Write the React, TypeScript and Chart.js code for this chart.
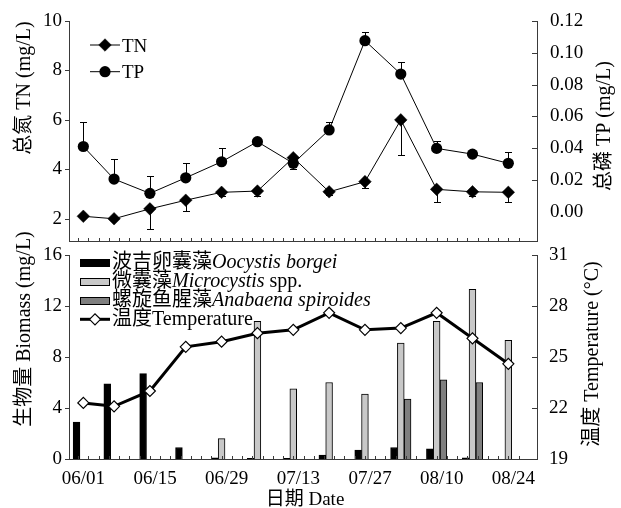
import React, { useEffect, useRef } from 'react';
import { Chart, registerables } from 'chart.js';

Chart.register(...registerables);

// ---------- data ----------
// sampling days, counted from 06/01
const sampleDays = [0, 6, 13, 20, 27, 34, 41, 48, 55, 62, 69, 76, 83];
const xTickDays = [0, 14, 28, 42, 56, 70, 84];
const xTickLabels = ['06/01', '06/15', '06/29', '07/13', '07/27', '08/10', '08/24'];
const minorTickDays = [-1, 1, 3, 5, 7, 9, 11, 13, 15, 17, 19, 21, 23, 25, 27, 29, 31, 33, 35, 37, 39, 41, 43, 45, 47, 49, 51, 53, 55, 57, 59, 61, 63, 65, 67, 69, 71, 73, 75, 77, 79, 81, 83, 85];

const tnValues = [2.1, 2.0, 2.4, 2.75, 3.07, 3.12, 4.47, 3.09, 3.5, 6.0, 3.19, 3.09, 3.07];
const tnErrLow = [0, 0, 0.81, 0.42, 0.14, 0.2, 0.46, 0.13, 0.27, 1.44, 0.5, 0.17, 0.4];
const tpValues = [0.041, 0.0205, 0.0115, 0.0213, 0.0314, 0.044, 0.0304, 0.0514, 0.1076, 0.0866, 0.0398, 0.0362, 0.0304];
const tpErrHigh = [0.0154, 0.0128, 0.0111, 0.0093, 0.0084, 0.0019, 0, 0.005, 0.0057, 0.0077, 0.0046, 0, 0.0069];

const oocystis = [2.9, 5.9, 6.7, 0.9, 0.1, 0.05, 0.05, 0.3, 0.7, 0.9, 0.8, 0.1, 0];
const microcystis = [0, 0, 0, 0, 1.6, 10.8, 5.5, 6.0, 5.1, 9.1, 10.8, 13.3, 9.3];
const anabaena = [0, 0, 0, 0, 0, 0, 0, 0, 0, 4.7, 6.2, 6.0, 0];
const temperature = [22.3, 22.1, 23.0, 25.6, 25.9, 26.4, 26.6, 27.6, 26.6, 26.7, 27.6, 26.1, 24.6];

const tnTicks = [2, 4, 6, 8, 10];
const tpTicks = [0, 0.02, 0.04, 0.06, 0.08, 0.1, 0.12];
const bioTicks = [0, 4, 8, 12, 16];
const tempTicks = [19, 22, 25, 28, 31];

const tnLabel = 'TN';
const tpLabel = 'TP';
const speciesCJK = ['波吉卵囊藻', '微囊藻', '螺旋鱼腥藻'];
const speciesLatin = ['Oocystis borgei', 'Microcystis', 'Anabaena spiroides'];
const sppSuffix = ' spp.';
const tempCJK = '温度';
const tempLatin = 'Temperature';

// ---------- style ----------
const SERIF = "'Liberation Serif', 'Times New Roman', serif";
const CJK = "'Noto Sans CJK SC', sans-serif";
const AXIS = '#3a3a3a';
const LIGHT = '#c8c8c8';
const DARK = '#7f7f7f';
const W = 621;
const H = 508;

type Run = { t: string; f: string };
const rm = (t: string, s = 20): Run => ({ t, f: `${s}px ${SERIF}` });
const it = (t: string, s = 20): Run => ({ t, f: `italic ${s}px ${SERIF}` });
const cj = (t: string, s = 20): Run => ({ t, f: `${s}px ${CJK}` });

function runsWidth(ctx: CanvasRenderingContext2D, runs: Run[]) {
  let w = 0;
  for (const r of runs) { ctx.font = r.f; w += ctx.measureText(r.t).width; }
  return w;
}
function drawRuns(ctx: CanvasRenderingContext2D, runs: Run[], x: number, y: number) {
  let cx = x;
  ctx.textBaseline = 'alphabetic';
  ctx.textAlign = 'left';
  ctx.fillStyle = '#000';
  for (const r of runs) { ctx.font = r.f; ctx.fillText(r.t, cx, y); cx += ctx.measureText(r.t).width; }
}
function drawTitle(ctx: CanvasRenderingContext2D, runs: Run[], cx: number, cy: number, rotate: boolean, size: number) {
  ctx.save();
  ctx.translate(cx, cy);
  if (rotate) ctx.rotate(-Math.PI / 2);
  const w = runsWidth(ctx, runs);
  drawRuns(ctx, runs, -w / 2, size * 0.36);
  ctx.restore();
}
function line(ctx: CanvasRenderingContext2D, x1: number, y1: number, x2: number, y2: number) {
  ctx.beginPath(); ctx.moveTo(x1, y1); ctx.lineTo(x2, y2); ctx.stroke();
}
function diamond(ctx: CanvasRenderingContext2D, x: number, y: number, r: number, fill: string, lw: number) {
  ctx.beginPath();
  ctx.moveTo(x - r, y); ctx.lineTo(x, y - r); ctx.lineTo(x + r, y); ctx.lineTo(x, y + r); ctx.closePath();
  ctx.fillStyle = fill; ctx.fill();
  ctx.lineWidth = lw; ctx.strokeStyle = '#000'; ctx.stroke();
}
function circle(ctx: CanvasRenderingContext2D, x: number, y: number, r: number) {
  ctx.beginPath(); ctx.arc(x, y, r, 0, Math.PI * 2);
  ctx.fillStyle = '#000'; ctx.fill();
}

function drawAxisTicks(chart: any, skipZeroRight: boolean) {
  const ctx = chart.ctx as CanvasRenderingContext2D;
  const ca = chart.chartArea;
  ctx.save();
  ctx.strokeStyle = AXIS;
  ctx.lineWidth = 1;
  for (const id of Object.keys(chart.scales)) {
    const s = chart.scales[id];
    if (s.axis !== 'y') continue;
    for (const t of s.ticks) {
      const p = Math.round(s.getPixelForValue(t.value)) + 0.5;
      if (s.position === 'left') line(ctx, ca.left - 4, p, ca.left, p);
      else {
        if (skipZeroRight && t.value === 0) continue;
        line(ctx, ca.right - 5, p, ca.right, p);
      }
    }
  }
  const xs = chart.scales.x;
  for (const d of minorTickDays) {
    const p = Math.round(xs.getPixelForValue(d)) + 0.5;
    line(ctx, p, ca.bottom - 3, p, ca.bottom);
  }
  ctx.restore();
}

function drawErrorBars(chart: any, axisId: string, values: number[], lower: number[], upper: number[]) {
  const ctx = chart.ctx as CanvasRenderingContext2D;
  const xs = chart.scales.x;
  const ys = chart.scales[axisId];
  ctx.save();
  ctx.strokeStyle = '#000';
  ctx.lineWidth = 1;
  values.forEach((v, i) => {
    const x = Math.round(xs.getPixelForValue(sampleDays[i])) + 0.5;
    const y0 = ys.getPixelForValue(v);
    if (lower[i] > 0) {
      const y1 = Math.round(ys.getPixelForValue(v - lower[i])) + 0.5;
      line(ctx, x, y0, x, y1);
      line(ctx, x - 3.5, y1, x + 3.5, y1);
    }
    if (upper[i] > 0) {
      const y1 = Math.round(ys.getPixelForValue(v + upper[i])) + 0.5;
      line(ctx, x, y0, x, y1);
      line(ctx, x - 3.5, y1, x + 3.5, y1);
    }
  });
  ctx.restore();
}

const tickFont = { family: SERIF, size: 19 };
const zeroPad = (s: any) => { s.paddingTop = 0; s.paddingBottom = 0; s.paddingLeft = 0; s.paddingRight = 0; };

function yScale(position: string, min: number, max: number, values: number[], width: number, padding: number, fmt?: (v: number) => string) {
  return {
    type: 'linear',
    position,
    min,
    max,
    afterBuildTicks: (s: any) => { s.ticks = values.map((v) => ({ value: v })); },
    afterFit: (s: any) => { s.width = width; zeroPad(s); },
    ticks: { font: tickFont, color: '#000', padding, callback: fmt ? (v: any) => fmt(Number(v)) : (v: any) => String(v) },
    grid: { display: false, drawTicks: false },
    border: { display: true, color: AXIS, width: 1 },
  };
}

function xScale(height: number, showLabels: boolean) {
  return {
    type: 'linear',
    position: 'bottom',
    min: -2.8,
    max: 88.6,
    offset: false,
    afterBuildTicks: (s: any) => { s.ticks = xTickDays.map((v) => ({ value: v })); },
    afterFit: (s: any) => { s.height = height; zeroPad(s); },
    ticks: {
      display: showLabels,
      font: tickFont,
      color: '#000',
      padding: 9,
      autoSkip: false,
      maxRotation: 0,
      callback: (v: any) => { const i = xTickDays.indexOf(Number(v)); return i >= 0 ? xTickLabels[i] : ''; },
    },
    grid: { display: false, drawTicks: false, offset: false },
    border: { display: true, color: AXIS, width: 1 },
  };
}

const pts = (vals: number[]) => vals.map((v, i) => ({ x: sampleDays[i], y: v }));

export default function App() {
  const topRef = useRef<HTMLCanvasElement>(null);
  const botRef = useRef<HTMLCanvasElement>(null);

  useEffect(() => {
    const topDecor = {
      id: 'topDecor',
      afterDraw(chart: any) {
        const ctx = chart.ctx as CanvasRenderingContext2D;
        drawAxisTicks(chart, true);
        drawErrorBars(chart, 'yTN', tnValues, tnErrLow, tnValues.map(() => 0));
        drawErrorBars(chart, 'yTP', tpValues, tpValues.map(() => 0), tpErrHigh);
        ctx.save();
        // legend
        ctx.strokeStyle = '#000'; ctx.lineWidth = 1;
        line(ctx, 90, 45, 120, 45);
        diamond(ctx, 105, 45, 6.3, '#000', 0.5);
        drawRuns(ctx, [rm(tnLabel, 19)], 122, 51.5);
        ctx.strokeStyle = '#000'; ctx.lineWidth = 1;
        line(ctx, 90, 71.7, 120, 71.7);
        circle(ctx, 105, 71.7, 5.6);
        drawRuns(ctx, [rm(tpLabel, 19)], 122, 78.2);
        // titles
        drawTitle(ctx, [cj('总氮'), rm(' TN (mg/L)')], 22.5, 88, true, 20);
        drawTitle(ctx, [cj('总磷'), rm(' TP (mg/L)')], 602.5, 126, true, 20);
        ctx.restore();
      },
    };

    const botDecor = {
      id: 'botDecor',
      afterDraw(chart: any) {
        const ctx = chart.ctx as CanvasRenderingContext2D;
        drawAxisTicks(chart, false);
        ctx.save();
        const rows = [260.5, 279.7, 298.9, 318.1];
        const fills = ['#000', LIGHT, DARK];
        const runsList: Run[][] = [
          [cj(speciesCJK[0]), it(speciesLatin[0])],
          [cj(speciesCJK[1]), it(speciesLatin[1]), rm(sppSuffix)],
          [cj(speciesCJK[2]), it(speciesLatin[2])],
        ];
        for (let k = 0; k < 3; k++) {
          const by = Math.round(rows[k] + 2 - 3.5) + 0.5;
          ctx.fillStyle = fills[k];
          ctx.fillRect(80.5, by, 29, 7);
          ctx.strokeStyle = '#000'; ctx.lineWidth = 1;
          ctx.strokeRect(80.5, by, 29, 7);
          drawRuns(ctx, runsList[k], 112, rows[k] + 7);
        }
        const ly = rows[3] + 1.2;
        ctx.strokeStyle = '#000'; ctx.lineWidth = 3;
        line(ctx, 80, ly, 110, ly);
        diamond(ctx, 95, ly, 5.5, '#fff', 1.2);
        drawRuns(ctx, [cj(tempCJK), rm(tempLatin)], 112, rows[3] + 7);
        // titles
        drawTitle(ctx, [cj('生物量'), rm(' Biomass (mg/L)')], 22.5, 329, true, 20);
        drawTitle(ctx, [cj('温度'), rm(' Temperature (°C)')], 591, 354, true, 20);
        drawTitle(ctx, [cj('日期', 19), rm(' Date', 19)], 305, 498.2, false, 19);
        ctx.restore();
      },
    };

    const top = new Chart(topRef.current as HTMLCanvasElement, {
      type: 'line',
      data: {
        datasets: [
          {
            label: tnLabel,
            data: pts(tnValues),
            yAxisID: 'yTN',
            borderColor: '#000',
            borderWidth: 1,
            pointStyle: 'rectRot',
            pointRadius: 6.3,
            pointBackgroundColor: '#000',
            pointBorderColor: '#000',
            pointBorderWidth: 0.5,
            tension: 0,
          },
          {
            label: tpLabel,
            data: pts(tpValues),
            yAxisID: 'yTP',
            borderColor: '#000',
            borderWidth: 1,
            pointStyle: 'circle',
            pointRadius: 5.6,
            pointBackgroundColor: '#000',
            pointBorderColor: '#000',
            pointBorderWidth: 0,
            tension: 0,
          },
        ],
      } as any,
      options: {
        responsive: false,
        animation: false,
        layout: { padding: { top: 21, left: 0, right: 0, bottom: 0 } },
        plugins: { legend: { display: false }, tooltip: { enabled: false }, title: { display: false } },
        scales: {
          x: xScale(H - 241, false),
          yTN: yScale('left', 1.1, 10, tnTicks, 69, 7),
          yTP: yScale('right', -0.0185, 0.12, tpTicks, 84, 13, (v) => v.toFixed(2)),
        },
      } as any,
      plugins: [topDecor],
    });

    const bot = new Chart(botRef.current as HTMLCanvasElement, {
      type: 'bar',
      data: {
        datasets: [
          {
            type: 'line',
            label: tempCJK + tempLatin,
            data: pts(temperature),
            yAxisID: 'yT',
            borderColor: '#000',
            borderWidth: 3,
            pointStyle: 'rectRot',
            pointRadius: 5.5,
            pointBackgroundColor: '#fff',
            pointBorderColor: '#000',
            pointBorderWidth: 1.2,
            tension: 0,
            order: -1,
          },
          {
            label: speciesCJK[0] + speciesLatin[0],
            data: pts(oocystis),
            yAxisID: 'yB',
            backgroundColor: '#000',
            borderColor: '#000',
            borderWidth: 1,
            barThickness: 6.8,
          },
          {
            label: speciesCJK[1] + speciesLatin[1] + sppSuffix,
            data: pts(microcystis),
            yAxisID: 'yB',
            backgroundColor: LIGHT,
            borderColor: '#000',
            borderWidth: 1,
            barThickness: 6.8,
          },
          {
            label: speciesCJK[2] + speciesLatin[2],
            data: pts(anabaena),
            yAxisID: 'yB',
            backgroundColor: DARK,
            borderColor: '#000',
            borderWidth: 1,
            barThickness: 6.8,
          },
        ],
      } as any,
      options: {
        responsive: false,
        animation: false,
        layout: { padding: { top: 255, left: 0, right: 0, bottom: 0 } },
        plugins: { legend: { display: false }, tooltip: { enabled: false }, title: { display: false } },
        scales: {
          x: xScale(H - 459, true),
          yB: yScale('left', 0, 16, bioTicks, 69, 7),
          yT: yScale('right', 19, 31, tempTicks, 84, 12),
        },
      } as any,
      plugins: [botDecor],
    });

    return () => { top.destroy(); bot.destroy(); };
  }, []);

  return (
    <div style={{ position: 'absolute', left: 0, top: 0, width: W, height: H, background: '#fff', overflow: 'hidden' }}>
      <canvas ref={topRef} width={W} height={H} style={{ position: 'absolute', left: 0, top: 0 }} />
      <canvas ref={botRef} width={W} height={H} style={{ position: 'absolute', left: 0, top: 0 }} />
    </div>
  );
}
